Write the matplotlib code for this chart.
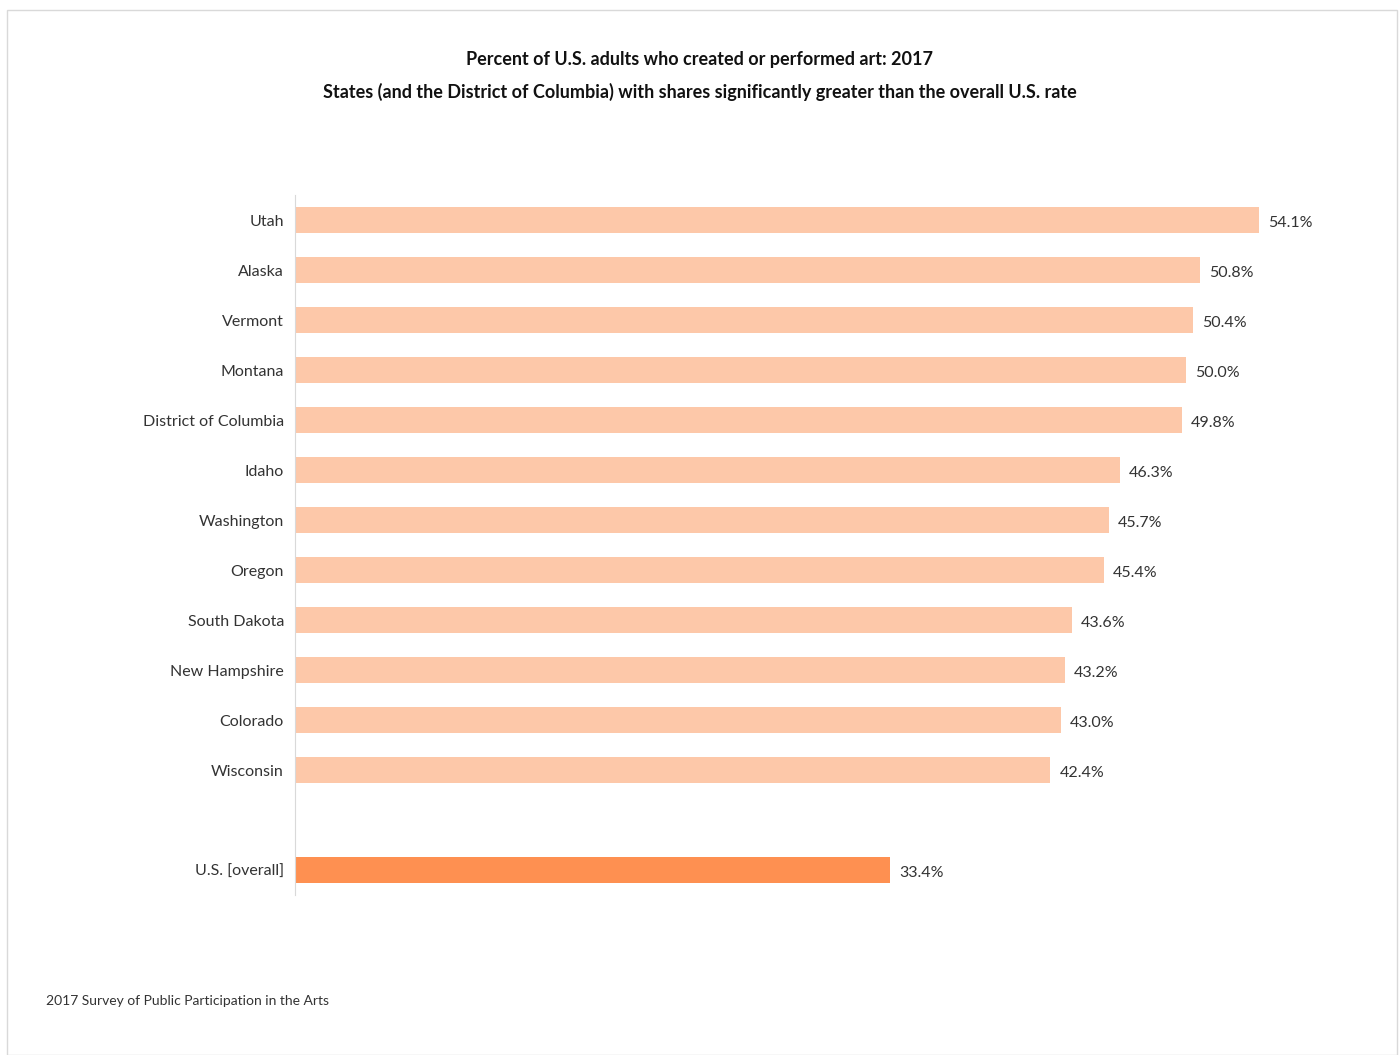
import matplotlib.pyplot as plt
import matplotlib
from matplotlib.patches import Rectangle

matplotlib.rcParams['font.family'] = ['Lato', 'DejaVu Sans']

# data
states = ['Utah', 'Alaska', 'Vermont', 'Montana', 'District of Columbia', 'Idaho',
          'Washington', 'Oregon', 'South Dakota', 'New Hampshire', 'Colorado', 'Wisconsin']
state_vals = [54.1, 50.8, 50.4, 50.0, 49.8, 46.3, 45.7, 45.4, 43.6, 43.2, 43.0, 42.4]
us_label = 'U.S. [overall]'
us_val = 33.4

labels = states + [us_label]
vals = state_vals + [us_val]
pos = list(range(len(states))) + [len(states) + 1]
colors = ['#FDC8A9'] * len(states) + ['#FE9051']

fig = plt.figure(figsize=(14, 10.55), dpi=100)
# outer frame
fig.patches.append(Rectangle((7 / 1400, 0), 1390 / 1400, 1045 / 1055, transform=fig.transFigure,
                             fill=False, edgecolor='#d9d9d9', linewidth=1))

ax = fig.add_axes([295 / 1400, 160 / 1055, 1069 / 1400, 700 / 1055])
ax.barh(pos, vals, height=0.52, color=colors)
ax.set_xlim(0, 60)
ax.set_ylim(13.5, -0.5)
ax.set_yticks(pos)
ax.set_yticklabels(labels, fontsize=11.5, color='#333333')
ax.tick_params(axis='y', length=0, pad=8)
ax.set_xticks([])
for s in ['top', 'right', 'bottom']:
    ax.spines[s].set_visible(False)
ax.spines['left'].set_color('#d9d9d9')

for p, v in zip(pos, vals):
    ax.text(v + 0.5, p + 0.05, f'{v:.1f}%', va='center', ha='left', fontsize=11.5, color='#333333')

fig.text(0.5, 1 - 59 / 1055, 'Percent of U.S. adults who created or performed art: 2017',
         ha='center', va='center', fontsize=13, fontweight='bold', color='#111111')
fig.text(0.5, 1 - 92 / 1055, 'States (and the District of Columbia) with shares significantly greater than the overall U.S. rate',
         ha='center', va='center', fontsize=13, fontweight='bold', color='#111111')
fig.text(46 / 1400, 1 - 1001 / 1055, '2017 Survey of Public Participation in the Arts',
         ha='left', va='center', fontsize=10, color='#333333')

plt.savefig('out.png', dpi=100)
